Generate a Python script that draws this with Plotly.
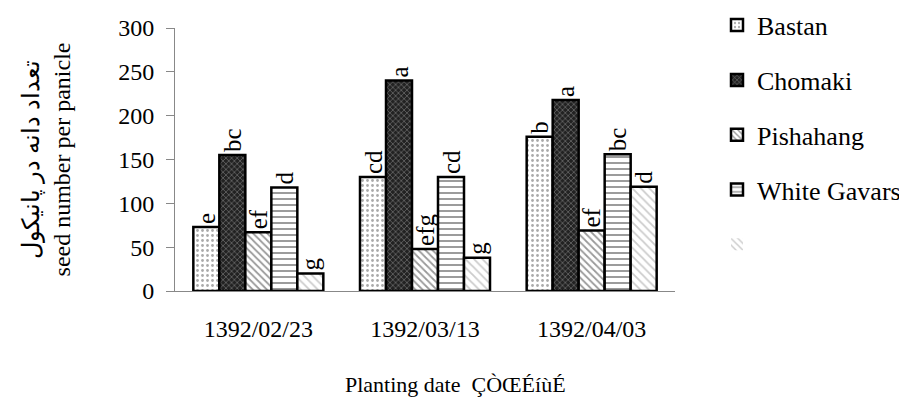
import plotly.graph_objects as go

dates = ["1392/02/23", "1392/03/13", "1392/04/03"]
series_names = ["Bastan", "Chomaki", "Pishahang", "White Gavars", ""]
bastan = [73, 130, 176]
chomaki = [155, 240, 218]
pishahang = [67, 48, 69]
white_gavars = [118, 130, 156]
fifth = [20, 38, 119]
letters_bastan = ["e", "cd", "b"]
letters_chomaki = ["bc", "a", "a"]
letters_pishahang = ["ef", "efg", "ef"]
letters_white = ["d", "cd", "bc"]
letters_fifth = ["g", "g", "d"]

values = [bastan, chomaki, pishahang, white_gavars, fifth]
letters = [letters_bastan, letters_chomaki, letters_pishahang, letters_white, letters_fifth]
patterns = [
    dict(shape=".", bgcolor="white", fgcolor="#555", size=5, solidity=0.25),
    dict(shape="x", bgcolor="#222", fgcolor="#ccc", size=4, solidity=0.3),
    dict(shape="\\", bgcolor="white", fgcolor="#333", size=5, solidity=0.35),
    dict(shape="-", bgcolor="white", fgcolor="#222", size=6, solidity=0.3),
    dict(shape="\\", bgcolor="white", fgcolor="#999", size=6, solidity=0.3),
]

font = "Liberation Serif"
fig = go.Figure()
for i, (name, vals, lab, pat) in enumerate(zip(series_names, values, letters, patterns)):
    last = i == len(series_names) - 1
    fig.add_trace(go.Bar(
        x=dates, y=vals, name=name, text=lab,
        textposition="outside", textangle=-90, cliponaxis=False,
        constraintext="none",
        textfont=dict(family=font, size=25, color="black"),
        marker=dict(color="white", pattern=pat,
                    line=dict(color="black", width=2.5)),
        legendgroup=str(i), offsetgroup=str(i), showlegend=not last,
    ))
    if last:
        # legend entry without border, as in the reference
        fig.add_trace(go.Bar(
            x=[dates[0]], y=[None], name=name,
            marker=dict(color="white", pattern=pat, line=dict(width=0)),
            legendgroup=str(i), offsetgroup=str(i), showlegend=True,
            hoverinfo="skip",
        ))

fig.add_annotation(
    text="Planting date  ÇÒŒÉíùÉ", xref="paper", yref="paper",
    x=0.336, y=-0.354, xanchor="left", yanchor="middle", showarrow=False,
    font=dict(family=font, size=22, color="black"),
)

fig.update_layout(
    width=907, height=404,
    margin=dict(l=167, r=240, t=20, b=121, autoexpand=False),
    paper_bgcolor="white", plot_bgcolor="white",
    barmode="group", bargap=0.22, bargroupgap=0,
    font=dict(family=font, size=24, color="black"),
    showlegend=True,
    legend=dict(x=1.084, y=1.1, xanchor="left", yanchor="top",
                font=dict(family=font, size=26), tracegroupgap=18,
                itemwidth=30, traceorder="grouped", maxheight=404),
    xaxis=dict(showline=True, linecolor="#888", linewidth=1,
               ticks="outside", ticklen=16, tickcolor="rgba(0,0,0,0)",
               tickfont=dict(size=24)),
    yaxis=dict(range=[0, 300], dtick=50, showline=True, linecolor="#888", linewidth=1,
               ticks="outside", ticklen=8, tickcolor="#888", showgrid=False,
               zeroline=False, tickfont=dict(size=24), ticklabelstandoff=7,
               title=dict(text="تعداد دانه در پانیکول<br>seed number per panicle",
                          font=dict(size=24), standoff=40)),
)

fig.write_html("out.html")
